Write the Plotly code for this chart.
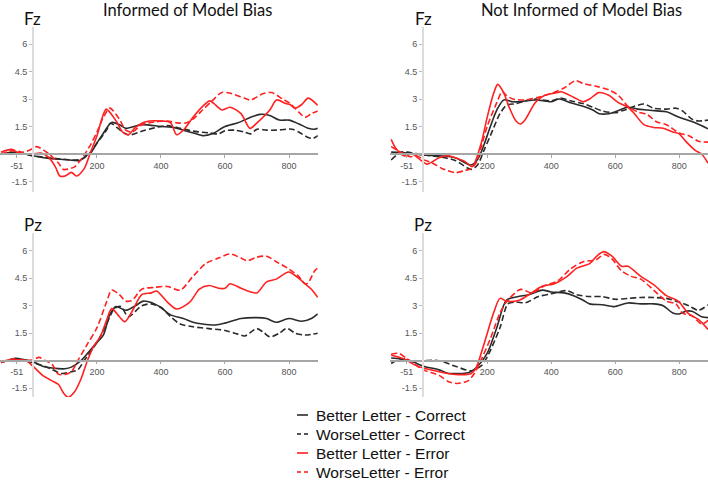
import plotly.graph_objects as go

W, H = 708, 481

SERIES_NAMES = ["Better Letter - Correct", "WorseLetter - Correct",
                "Better Letter - Error", "WorseLetter - Error"]
PANEL_TITLES = ["Informed of Model Bias", "Not Informed of Model Bias"]
ELECTRODES = ["Fz", "Pz"]
Y_TICKS = [-1.5, 1.5, 3, 4.5, 6]
Y_TICK_TEXT = ["-1.5", "1.5", "3", "4.5", "6"]
X_TICKS = [-51, 200, 400, 600, 800]
X_TICK_TEXT = ["-51", "200", "400", "600", "800"]

# ---------- Fz, Informed ----------
fz_inf_bc_t = [-100, -60, -25, 0, 50, 100, 147, 165, 180, 200, 215, 246, 270, 290, 340, 400, 440, 470, 510, 530, 560, 600, 640, 680, 709, 740, 770, 800, 830, 860, 880, 890]
fz_inf_bc_v = [0.0, 0.1, 0.0, -0.1, -0.25, -0.3, -0.35, -0.1, 0.05, 0.6, 1.0, 1.72, 1.6, 1.4, 1.6, 1.5, 1.45, 1.3, 1.1, 1.0, 1.1, 1.5, 1.7, 2.0, 2.16, 2.1, 1.85, 1.85, 1.65, 1.4, 1.35, 1.4]
fz_inf_wc_t = [-100, -50, 0, 50, 100, 150, 175, 200, 230, 242, 280, 300, 350, 400, 420, 450, 500, 550, 580, 600, 630, 660, 680, 700, 730, 760, 790, 810, 840, 860, 875, 890]
fz_inf_wc_v = [0.0, 0.05, -0.1, -0.2, -0.3, -0.3, 0.0, 0.6, 1.3, 1.68, 1.2, 1.04, 1.3, 1.5, 1.55, 1.45, 1.25, 1.15, 1.1, 1.27, 1.3, 1.2, 1.1, 1.35, 1.3, 1.3, 1.35, 1.35, 1.1, 0.9, 0.85, 1.0]
fz_inf_be_t = [-100, -67, -50, -25, 0, 25, 50, 70, 84, 100, 120, 136, 160, 180, 200, 215, 229, 260, 280, 298, 320, 350, 400, 430, 449, 470, 500, 530, 553, 575, 590, 616, 650, 678, 700, 740, 761, 790, 803, 819, 840, 860, 890]
fz_inf_be_v = [0.1, 0.25, 0.1, 0.0, 0.0, 0.05, -0.2, -0.7, -1.2, -1.2, -1.0, -1.2, -0.8, 0.1, 1.0, 1.9, 2.45, 1.8, 1.2, 1.05, 1.45, 1.75, 1.8, 1.7, 1.05, 1.3, 2.0, 2.6, 2.9, 2.6, 2.4, 2.55, 2.2, 1.4, 1.7, 2.4, 2.95, 2.75, 2.7, 2.5, 2.7, 3.05, 2.65]
fz_inf_we_t = [-100, -60, -30, 0, 12, 50, 80, 95, 130, 150, 180, 200, 220, 240, 270, 290, 310, 340, 380, 420, 450, 480, 500, 530, 560, 590, 620, 660, 680, 720, 746, 780, 800, 830, 850, 870, 890]
fz_inf_we_v = [0.0, 0.2, 0.1, 0.3, 0.4, 0.0, -0.5, -0.84, -0.7, -0.3, 0.5, 1.2, 2.0, 2.5, 1.9, 1.3, 1.2, 1.6, 1.75, 1.8, 1.7, 1.7, 1.9, 2.4, 2.9, 3.36, 3.3, 3.05, 2.95, 3.3, 3.35, 3.0, 2.8, 2.3, 2.0, 2.2, 2.35]

# ---------- Fz, Not informed ----------
fz_not_bc_t = [-100, -50, 0, 50, 100, 150, 170, 190, 210, 230, 252, 280, 300, 350, 380, 400, 425, 460, 500, 530, 550, 580, 600, 640, 670, 700, 730, 760, 800, 850, 890]
fz_not_bc_v = [0.1, 0.05, -0.05, -0.1, -0.2, -0.6, -0.3, 0.5, 1.5, 2.4, 2.95, 2.85, 2.85, 2.95, 2.9, 2.85, 3.0, 2.8, 2.6, 2.4, 2.2, 2.2, 2.3, 2.55, 2.45, 2.4, 2.35, 2.3, 2.0, 1.7, 1.37]
fz_not_wc_t = [-100, -70, -50, 0, 50, 100, 150, 170, 190, 210, 240, 260, 290, 320, 350, 400, 430, 460, 500, 530, 560, 600, 630, 660, 690, 720, 760, 790, 810, 840, 860, 890]
fz_not_wc_v = [-0.33, 0.1, 0.1, -0.05, -0.15, -0.35, -0.84, -0.6, 0.2, 1.0, 2.2, 2.65, 2.75, 2.9, 3.0, 2.9, 3.05, 2.9, 2.75, 2.55, 2.35, 2.25, 2.4, 2.6, 2.73, 2.5, 2.45, 2.5, 2.35, 1.9, 1.8, 1.85]
fz_not_be_t = [-100, -85, -60, -34, 12, 50, 80, 100, 130, 153, 180, 200, 220, 233, 250, 270, 290, 304, 320, 350, 380, 420, 431, 470, 500, 520, 549, 580, 610, 640, 660, 690, 720, 750, 780, 800, 820, 850, 870, 890]
fz_not_be_v = [0.8, 0.3, -0.1, 0.0, -0.55, -0.2, -0.1, -0.2, -0.4, -0.69, 0.5, 2.0, 3.3, 3.8, 3.4, 2.5, 1.8, 1.64, 1.9, 2.8, 3.2, 3.35, 3.4, 3.1, 2.85, 3.0, 3.35, 3.2, 2.8, 2.55, 2.2, 1.6, 1.45, 1.4, 1.2, 1.1, 0.7, 0.2, 0.0, -0.5]
fz_not_we_t = [-100, -80, -60, -40, -20, 0, 30, 60, 101, 130, 150, 165, 180, 200, 230, 247, 260, 280, 320, 360, 400, 440, 476, 500, 540, 580, 610, 640, 670, 700, 730, 760, 800, 830, 860, 890]
fz_not_we_v = [0.4, 0.2, 0.0, -0.15, -0.1, -0.3, -0.5, -0.8, -1.02, -0.9, -0.8, -0.5, 0.3, 1.5, 2.8, 3.4, 3.2, 3.0, 2.95, 3.1, 3.3, 3.6, 4.0, 3.85, 3.7, 3.5, 3.2, 2.6, 2.3, 2.15, 1.75, 1.6, 1.15, 1.0, 0.7, 0.65]

# ---------- Pz, Informed ----------
pz_inf_bc_t = [-100, -70, -56, -25, 0, 30, 60, 100, 120, 150, 180, 200, 220, 240, 259, 290, 320, 345, 380, 400, 430, 470, 500, 530, 570, 600, 650, 700, 730, 760, 800, 840, 870, 890]
pz_inf_bc_v = [-0.1, 0.05, 0.13, 0.05, -0.05, -0.3, -0.4, -0.44, -0.35, 0.0, 0.6, 1.0, 1.4, 2.5, 2.95, 2.75, 3.0, 3.25, 3.1, 2.9, 2.5, 2.3, 2.1, 2.0, 1.95, 2.05, 2.3, 2.35, 2.3, 2.1, 2.3, 2.15, 2.3, 2.55]
pz_inf_wc_t = [-100, -60, -30, 0, 50, 90, 120, 140, 160, 200, 230, 255, 275, 298, 340, 370, 400, 430, 460, 500, 550, 600, 640, 662, 699, 720, 740, 770, 793, 820, 850, 890]
pz_inf_wc_v = [-0.1, 0.1, 0.0, -0.1, -0.4, -0.7, -0.6, -0.5, 0.0, 1.0, 2.0, 2.85, 2.95, 2.4, 3.0, 3.1, 2.9, 2.4, 2.0, 1.85, 1.75, 1.65, 1.45, 1.35, 1.75, 1.55, 1.3, 1.5, 1.76, 1.5, 1.4, 1.5]
pz_inf_be_t = [-100, -70, -50, -20, 0, 30, 60, 80, 95, 110, 130, 150, 170, 190, 210, 230, 246, 270, 287, 310, 340, 370, 386, 420, 449, 490, 520, 550, 580, 600, 616, 650, 680, 700, 730, 760, 799, 830, 850, 870, 890]
pz_inf_be_v = [-0.05, 0.05, 0.05, 0.0, -0.3, -0.8, -1.1, -1.3, -1.75, -2.0, -1.7, -1.0, 0.0, 0.8, 1.3, 2.2, 2.84, 2.4, 2.13, 2.7, 3.6, 3.7, 3.8, 3.2, 2.82, 3.2, 3.9, 4.1, 3.95, 3.95, 4.2, 3.95, 3.75, 3.7, 4.3, 4.45, 4.84, 4.5, 4.2, 3.9, 3.45]
pz_inf_we_t = [-100, -60, -30, 0, 19, 40, 60, 79, 100, 120, 140, 170, 200, 230, 246, 270, 290, 310, 340, 380, 420, 460, 500, 540, 580, 616, 650, 670, 700, 730, 760, 800, 830, 850, 860, 880, 890]
pz_inf_we_v = [-0.1, 0.1, 0.0, 0.05, 0.18, 0.0, -0.2, -0.73, -0.75, -0.6, 0.0, 0.9, 1.8, 3.2, 3.85, 3.6, 3.25, 3.3, 3.9, 4.0, 4.05, 3.85, 4.6, 5.3, 5.6, 5.82, 5.6, 5.45, 5.65, 5.7, 5.4, 5.0, 4.6, 4.2, 4.25, 4.9, 5.05]

# ---------- Pz, Not informed ----------
pz_not_bc_t = [-100, -70, -50, -20, 0, 50, 80, 100, 120, 143, 170, 200, 230, 260, 294, 330, 372, 400, 440, 470, 500, 520, 560, 596, 640, 680, 720, 750, 780, 800, 820, 840, 870, 890]
pz_not_bc_v = [0.15, 0.1, 0.05, -0.15, -0.3, -0.5, -0.7, -0.7, -0.7, -0.65, -0.3, 0.4, 1.8, 3.3, 3.49, 3.6, 3.85, 3.75, 3.7, 3.55, 3.3, 3.1, 3.05, 2.95, 3.15, 3.1, 3.1, 3.0, 2.6, 2.55, 2.7, 2.7, 2.4, 2.35]
pz_not_wc_t = [-100, -70, -40, 0, 50, 100, 150, 180, 200, 240, 265, 290, 320, 360, 400, 450, 480, 520, 560, 600, 640, 680, 720, 760, 800, 830, 860, 890]
pz_not_wc_v = [-0.15, 0.1, 0.0, 0.0, 0.0, -0.3, -0.55, -0.3, 0.2, 1.8, 3.1, 3.2, 3.16, 3.5, 3.65, 3.82, 3.6, 3.5, 3.5, 3.35, 3.4, 3.45, 3.45, 3.4, 3.2, 3.0, 2.75, 3.05]
pz_not_be_t = [-100, -60, -30, 0, 50, 100, 150, 165, 190, 220, 240, 260, 300, 330, 370, 410, 450, 480, 520, 545, 565, 590, 620, 640, 680, 720, 760, 780, 800, 830, 860, 890]
pz_not_be_v = [0.3, 0.1, -0.2, -0.4, -0.6, -0.75, -0.7, -0.4, 0.9, 2.6, 3.4, 3.25, 3.3, 3.6, 4.05, 4.2, 4.6, 5.05, 5.3, 5.75, 5.95, 5.7, 5.15, 5.15, 4.6, 4.15, 3.55, 3.4, 3.2, 2.55, 2.25, 1.7]
pz_not_we_t = [-100, -75, -50, -25, 0, 50, 80, 106, 140, 160, 180, 210, 240, 260, 304, 340, 380, 420, 460, 500, 540, 565, 590, 620, 650, 680, 720, 760, 790, 810, 840, 870, 890]
pz_not_we_v = [0.35, 0.4, 0.1, -0.2, -0.5, -0.8, -1.15, -1.24, -1.1, -0.7, 0.0, 1.2, 2.6, 3.2, 3.89, 3.7, 4.1, 4.35, 5.0, 5.4, 5.5, 5.8, 5.55, 4.9, 4.6, 4.45, 3.85, 3.25, 3.1, 2.6, 2.45, 2.0, 2.2]

PANELS = [
    (0, 0, [(fz_inf_bc_t, fz_inf_bc_v), (fz_inf_wc_t, fz_inf_wc_v), (fz_inf_be_t, fz_inf_be_v), (fz_inf_we_t, fz_inf_we_v)]),
    (0, 1, [(fz_not_bc_t, fz_not_bc_v), (fz_not_wc_t, fz_not_wc_v), (fz_not_be_t, fz_not_be_v), (fz_not_we_t, fz_not_we_v)]),
    (1, 0, [(pz_inf_bc_t, pz_inf_bc_v), (pz_inf_wc_t, pz_inf_wc_v), (pz_inf_be_t, pz_inf_be_v), (pz_inf_we_t, pz_inf_we_v)]),
    (1, 1, [(pz_not_bc_t, pz_not_bc_v), (pz_not_wc_t, pz_not_wc_v), (pz_not_be_t, pz_not_be_v), (pz_not_we_t, pz_not_we_v)]),
]

DASH = "6px,3px"
STYLES = [("#2b2b2b", "solid"), ("#2b2b2b", DASH), ("#ff2020", "solid"), ("#ff2020", DASH)]

# layout geometry (pixels)
X_RANGE = [-103, 890]
COL_X0 = [0, 390.2]
COL_W = 317.8
ROW_TOP = [27, 233]
ROW_BOT = [192, 397]
ROW_ZERO = [154, 360.7]
PX_PER_UNIT = 18.33

fig = go.Figure()
layout = dict(
    width=W, height=H, margin=dict(l=0, r=0, t=0, b=0),
    paper_bgcolor="white", plot_bgcolor="rgba(0,0,0,0)",
    font=dict(family="Liberation Sans, Arial", color="#444"),
    showlegend=False,
)
annotations = []
shapes = []

for i, (r, c, series) in enumerate(PANELS):
    ax = "" if i == 0 else str(i + 1)
    x0 = COL_X0[c] / W
    x1 = min(1.0, (COL_X0[c] + COL_W) / W)
    yd0 = 1 - ROW_BOT[r] / H
    yd1 = 1 - ROW_TOP[r] / H
    ymax = (ROW_ZERO[r] - ROW_TOP[r]) / PX_PER_UNIT
    ymin = (ROW_ZERO[r] - ROW_BOT[r]) / PX_PER_UNIT
    xpos0 = x0 + (0 - X_RANGE[0]) / (X_RANGE[1] - X_RANGE[0]) * (x1 - x0)
    ypos0 = yd0 + (0 - ymin) / (ymax - ymin) * (yd1 - yd0)

    layout["xaxis" + ax] = dict(
        domain=[x0, x1], range=X_RANGE, anchor="free", position=ypos0,
        showgrid=False, zeroline=False, showline=True, linecolor="#a6a6a6", linewidth=1.5,
        ticks="outside", ticklen=3, tickcolor="#a6a6a6", tickwidth=1,
        tickvals=X_TICKS, ticktext=X_TICK_TEXT,
        tickfont=dict(size=9, color="#555", family="Liberation Sans, Arial"),
        fixedrange=True,
    )
    layout["yaxis" + ax] = dict(
        domain=[yd0, yd1], range=[ymin, ymax], anchor="free", position=xpos0,
        showgrid=False, zeroline=False, showline=True, linecolor="#dcdcdc", linewidth=2,
        ticks="outside", ticklen=3, tickcolor="#bbbbbb", tickwidth=1,
        tickvals=Y_TICKS, ticktext=Y_TICK_TEXT,
        tickfont=dict(size=9, color="#555", family="Liberation Sans, Arial"),
        fixedrange=True,
    )
    for k, (t, v) in enumerate(series):
        col, dash = STYLES[k]
        fig.add_trace(go.Scatter(
            x=t, y=v, mode="lines", name=SERIES_NAMES[k],
            xaxis="x" + ax, yaxis="y" + ax,
            line=dict(color=col, width=1.6, dash=dash, shape="spline", smoothing=0.8),
            showlegend=False,
        ))
    annotations.append(dict(
        text=ELECTRODES[r], x=xpos0, y=1 - (ROW_TOP[r] - 9) / H, xref="paper", yref="paper",
        xanchor="center", yanchor="middle", showarrow=False,
        font=dict(family="Lato", size=17, color="#111"),
    ))

for c, title in enumerate(PANEL_TITLES):
    cx = [187, 581][c] / W
    annotations.append(dict(
        text=title, x=cx, y=1 - 10 / H, xref="paper", yref="paper",
        xanchor="center", yanchor="middle", showarrow=False,
        font=dict(family="Lato", size=16.5, color="#111"),
    ))

# manual legend (keys + labels)
LEG_ROWS = [415, 434, 453, 472]
for k, name in enumerate(SERIES_NAMES):
    col, dash = STYLES[k]
    yk = 1 - LEG_ROWS[k] / H
    if dash == "solid":
        segs = [(297, 308)]
    else:
        segs = [(297, 301), (304, 308)]
    for a, b in segs:
        shapes.append(dict(type="line", xref="paper", yref="paper",
                           x0=a / W, x1=b / W, y0=yk, y1=yk,
                           line=dict(color=col, width=1.6)))
    annotations.append(dict(
        text=name, x=314 / W, y=yk, xref="paper", yref="paper",
        xanchor="left", yanchor="middle", showarrow=False,
        font=dict(family="Liberation Sans, Arial", size=15.5, color="#111"),
    ))

layout["annotations"] = annotations
layout["shapes"] = shapes
fig.update_layout(**layout)
fig.write_html("out.html")
